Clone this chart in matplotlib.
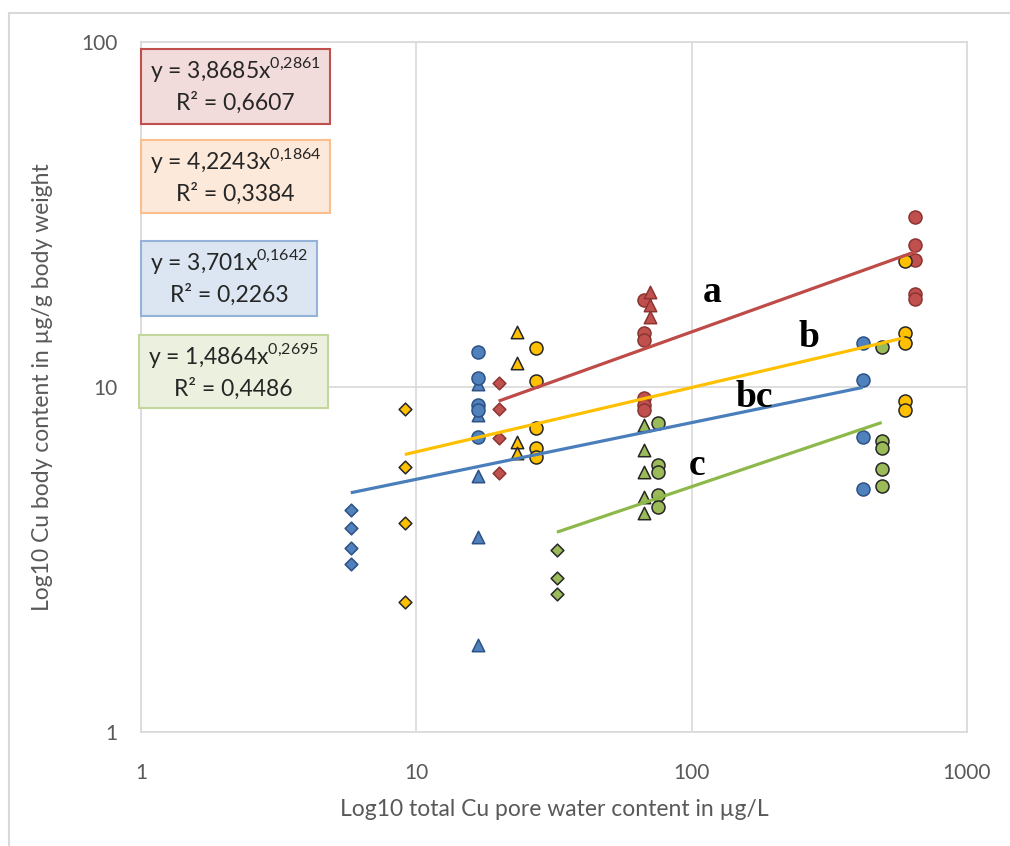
import matplotlib
matplotlib.use('Agg')
import matplotlib.pyplot as plt
from matplotlib.lines import Line2D
from matplotlib.patches import Rectangle
import numpy as np

plt.rcParams['font.family'] = ['Lato', 'DejaVu Sans']
plt.rcParams['mathtext.fontset'] = 'custom'
plt.rcParams['mathtext.rm'] = 'Lato'

# ---- data (x = pore water Cu, y = body Cu) ----
blue_dia_x = [5.78, 5.78, 5.78, 5.78]
blue_dia_y = [4.40, 3.90, 3.41, 3.07]
blue_circ_x = [16.7, 16.7, 16.7, 16.7, 16.7, 418, 418, 418, 418]
blue_circ_y = [12.6, 10.6, 8.87, 8.58, 7.16, 13.4, 10.5, 7.16, 5.06]
blue_tri_x = [16.7, 16.7, 16.7, 16.7, 16.7]
blue_tri_y = [10.2, 8.3, 5.52, 3.67, 1.79]

red_dia_x = [19.9, 19.9, 19.9, 19.9]
red_dia_y = [10.3, 8.63, 7.11, 5.63]
red_circ_x = [67, 67, 67, 67, 67, 67, 650, 650, 650, 650, 650]
red_circ_y = [17.9, 14.3, 13.7, 9.3, 8.87, 8.58, 31.1, 25.8, 23.3, 18.6, 18.0]
red_tri_x = [70.4, 70.4, 70.4]
red_tri_y = [18.8, 17.3, 16.0]

yellow_dia_x = [9.08, 9.08, 9.08, 9.08]
yellow_dia_y = [8.63, 5.86, 4.03, 2.38]
yellow_tri_x = [23.2, 23.2, 23.2, 23.2]
yellow_tri_y = [14.4, 11.7, 6.93, 6.44]
yellow_circ_x = [27.2, 27.2, 27.2, 27.2, 27.2, 593, 593, 593, 593, 593]
yellow_circ_y = [13.0, 10.4, 7.61, 6.66, 6.27, 23.2, 14.3, 13.4, 9.1, 8.58]

green_dia_x = [32.4, 32.4, 32.4]
green_dia_y = [3.37, 2.80, 2.51]
green_tri_x = [67, 67, 67, 67, 67]
green_tri_y = [7.76, 6.57, 5.67, 4.80, 4.31]
green_circ_x = [75.3, 75.3, 75.3, 75.3, 75.3, 490, 490, 490, 490, 490]
green_circ_y = [7.87, 5.94, 5.67, 4.86, 4.49, 13.1, 6.97, 6.66, 5.78, 5.17]

# power trendlines y = a * x^b (coefficients printed on the chart)
fit_a = {'red': 3.8685, 'yellow': 4.2243, 'blue': 3.701, 'green': 1.4864}
fit_b = {'red': 0.2861, 'yellow': 0.1864, 'blue': 0.1642, 'green': 0.2695}
fit_r2 = {'red': '0,6607', 'yellow': '0,3384', 'blue': '0,2263', 'green': '0,4486'}
fit_eq = {'red': ('3,8685', '0{,}2861'), 'yellow': ('4,2243', '0{,}1864'),
          'blue': ('3,701', '0{,}1642'), 'green': ('1,4864', '0{,}2695')}

group_labels = ['a', 'b', 'bc', 'c']
group_label_x = [119, 266, 169, 105]
group_label_y = [17.6, 13.1, 8.75, 5.56]

# ---- style ----
face = {'blue': '#4F81BD', 'red': '#C0504D', 'yellow': '#FFC000', 'green': '#9BBB59'}
edge = {'blue': '#2E5184', 'red': '#8B3532', 'yellow': '#262626', 'green': '#262626'}
line_col = {'blue': '#4A7EBB', 'red': '#BE4B48', 'yellow': '#FFC000', 'green': '#8DB84A'}
box_face = {'red': '#F2DCDB', 'yellow': '#FDE9D9', 'blue': '#DCE6F2', 'green': '#EBF1DE'}
box_edge = {'red': '#C0504D', 'yellow': '#F9BF8F', 'blue': '#95B3D7', 'green': '#C3D69B'}
grey = '#D9D9D9'
txt = '#595959'

fig = plt.figure(figsize=(10.10, 8.46), dpi=100)
W, H = 1010, 846
ax = fig.add_axes([141 / W, 1 - 732 / H, (967 - 141) / W, (732 - 42) / H])
ax.set_xscale('log')
ax.set_yscale('log')
ax.set_xlim(1, 1000)
ax.set_ylim(1, 100)

groups = {
    'blue': [(blue_dia_x, blue_dia_y, 'D'), (blue_tri_x, blue_tri_y, '^'),
             (blue_circ_x, blue_circ_y, 'o')],
    'red': [(red_dia_x, red_dia_y, 'D'), (red_circ_x, red_circ_y, 'o'),
            (red_tri_x, red_tri_y, '^')],
    'yellow': [(yellow_dia_x, yellow_dia_y, 'D'), (yellow_tri_x, yellow_tri_y, '^'),
               (yellow_circ_x, yellow_circ_y, 'o')],
    'green': [(green_dia_x, green_dia_y, 'D'), (green_tri_x, green_tri_y, '^'),
              (green_circ_x, green_circ_y, 'o')],
}
sizes = {'D': 42, 'o': 88, '^': 80}

for z, (col, sets) in enumerate(groups.items()):
    allx = []
    for xs, ys, m in sets:
        ax.scatter(xs, ys, s=sizes[m], marker=m, color=face[col],
                   edgecolors=edge[col], linewidths=1.1, zorder=3 + z * 0.1)
        allx += xs
    xx = np.logspace(np.log10(min(allx)), np.log10(max(allx)), 50)
    ax.plot(xx, fit_a[col] * xx ** fit_b[col], color=line_col[col], lw=2.3,
            zorder=5, solid_capstyle='butt')

for lab, lx, ly in zip(group_labels, group_label_x, group_label_y):
    ax.text(lx, ly, lab, ha='center', va='baseline', fontsize=27,
            fontweight='bold', family='Liberation Serif', zorder=6)

ax.grid(True, which='major', color=grey, lw=1.2)
ax.grid(False, which='minor')
for s in ax.spines.values():
    s.set_color(grey)
    s.set_linewidth(1.2)
ax.tick_params(which='both', length=0)
ax.tick_params(axis='x', pad=22, labelsize=15, labelcolor=txt)
ax.tick_params(axis='y', pad=17, labelsize=15, labelcolor=txt)
ax.set_xticks([1, 10, 100, 1000])
ax.set_xticklabels(['1', '10', '100', '1000'])
ax.set_yticks([1, 10, 100])
ax.set_yticklabels(['1', '10', '100'])
ax.minorticks_off()
ax.set_xlabel('Log10 total Cu pore water content in µg/L', fontsize=16.5,
              color=txt, labelpad=12)
ax.set_ylabel('Log10 Cu body content in µg/g body weight', fontsize=16.5,
              color=txt, labelpad=20)

# equation boxes (pixel layout: left, top, right, bottom)
box_px = {'red': (141, 49, 330, 124), 'yellow': (141, 140, 330, 213),
          'blue': (141, 241, 317, 316), 'green': (139, 335, 328, 408)}
for col, (x0, y0, x1, y1) in box_px.items():
    fig.add_artist(Rectangle((x0 / W, 1 - y1 / H), (x1 - x0) / W, (y1 - y0) / H,
                             transform=fig.transFigure, facecolor=box_face[col],
                             edgecolor=box_edge[col], lw=1.5, zorder=10))
    cx = (x0 + x1) / 2 / W
    coef, expo = fit_eq[col]
    fig.text(cx, 1 - (y0 + 29) / H,
             'y = ' + coef + r'$\mathrm{x}^{\mathrm{' + expo + '}}$',
             ha='center', va='baseline', fontsize=16.5, color='#262626', zorder=11)
    fig.text(cx, 1 - (y0 + 61) / H, 'R² = ' + fit_r2[col],
             ha='center', va='baseline', fontsize=16.5, color='#262626', zorder=11)

# outer chart frame (left and top edges visible)
fig.add_artist(Line2D([9 / W, 9 / W], [0, 1 - 13 / H], transform=fig.transFigure,
                      color=grey, lw=1.5))
fig.add_artist(Line2D([9 / W, 1], [1 - 13 / H, 1 - 13 / H], transform=fig.transFigure,
                      color=grey, lw=1.5))

fig.savefig('out.png', dpi=100)
